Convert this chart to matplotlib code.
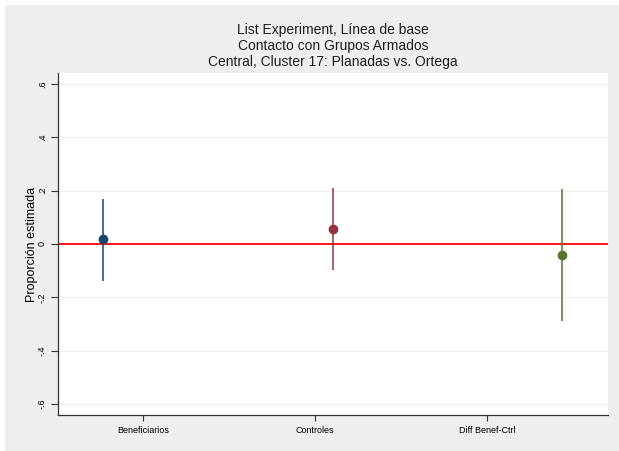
import matplotlib.pyplot as plt
import matplotlib.patches as mpatches

# estimates
groups = ["Beneficiarios", "Controles", "Diff Benef-Ctrl"]
estimates = [0.019, 0.056, -0.041]
ci_low = [-0.14, -0.097, -0.29]
ci_high = [0.17, 0.21, 0.206]
colors = ["#1a476f", "#90353b", "#55752f"]
point_pos = [1, 2, 3]
tick_pos = [1.174, 1.924, 2.673]   # Stata puts the labels off the points
yticks = [-0.6, -0.4, -0.2, 0, 0.2, 0.4, 0.6]
yticklabels = ["-.6", "-.4", "-.2", "0", ".2", ".4", ".6"]

plt.rcParams["font.family"] = ["Liberation Sans", "DejaVu Sans"]

fig = plt.figure(figsize=(6.19, 4.51), dpi=100)
fig.patch.set_facecolor("white")
# gray graph region with a thin white border
fig.patches.append(mpatches.Rectangle((5 / 619, 0), 1 - 5 / 619, 1 - 5 / 451,
                                      transform=fig.transFigure, fc="#eeeeee",
                                      ec="none", zorder=-10))

ax = fig.add_axes([58 / 619, 36 / 451, 550 / 619, 342 / 451])
ax.set_facecolor("white")
ax.set_xlim(0.804, 3.2)
ax.set_ylim(-0.641, 0.641)

for s in ["top", "right"]:
    ax.spines[s].set_visible(False)
for s in ["left", "bottom"]:
    ax.spines[s].set_color("#333333")
    ax.spines[s].set_linewidth(0.9)

ax.set_yticks(yticks)
ax.set_yticklabels(yticklabels, rotation=90, va="center", fontsize=6.5)
ax.set_xticks(tick_pos)
ax.set_xticklabels(groups, fontsize=6.5)
ax.tick_params(axis="y", length=5, width=0.8, color="#333333", pad=3)
ax.tick_params(axis="x", length=4, width=0.8, color="#333333", pad=4)
ax.grid(axis="y", color="#f0f0f0", lw=0.8)
ax.set_axisbelow(True)

ax.axhline(0, color="red", lw=1.3, zorder=2)

for x, est, lo, hi, c in zip(point_pos, estimates, ci_low, ci_high, colors):
    ax.vlines(x, lo, hi, color=c, lw=1.1, zorder=3)
    ax.plot(x, est, "o", color=c, ms=6, zorder=4)

ax.set_ylabel("Proporción estimada", fontsize=9, labelpad=0)

fig.text(333 / 619, 1 - 46 / 451,
         "List Experiment, Línea de base\nContacto con Grupos Armados\nCentral, Cluster 17: Planadas vs. Ortega",
         ha="center", va="center", fontsize=10, color="#1e1e1e", linespacing=1.15)

fig.savefig("out.png", dpi=100, facecolor=fig.get_facecolor())
